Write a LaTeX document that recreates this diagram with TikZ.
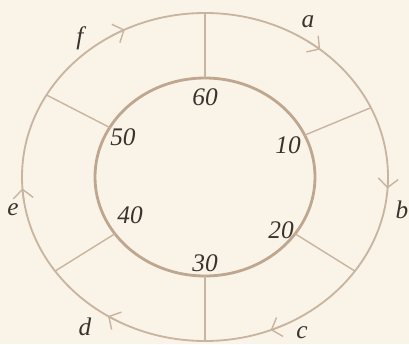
\documentclass[tikz,border=0pt]{standalone}
\usepackage{fontspec}
\setmainfont{Liberation Serif}
\usepackage{xcolor}
\usetikzlibrary{arrows.meta}
\definecolor{paper-bg}{HTML}{FAF4E8}
\definecolor{ring-line}{HTML}{C8B49F}
\definecolor{inner-line}{HTML}{BFA68E}
\definecolor{ink}{HTML}{3A322D}

\begin{document}
\begin{tikzpicture}[
    ring/.style={draw=ring-line, line width=1.3pt},
    hub/.style={draw=inner-line, line width=2pt},
    spoke/.style={draw=ring-line, line width=1pt},
    flow/.style={draw=ring-line, line width=1pt,
                 -{Straight Barb[length=2.2mm, width=5mm]}},
    lbl/.style={text=ink, font=\fontsize{18}{20}\selectfont\itshape, inner sep=0pt}]
    % Ring: centre at (0,0), outer radii 4.575/4.1, inner radii 2.75/2.475
    % six spokes, six clockwise arrows on the outer ring
    \useasboundingbox[fill=paper-bg] (-5.125,-4.175) rectangle (5.1,4.425);
    \draw[ring] (0,0) ellipse [x radius=4.575, y radius=4.1];
    \draw[hub] (0,0) ellipse [x radius=2.75, y radius=2.475];
    \foreach \t in {90,25,-35,-90,-145,150}
      \draw[spoke] (\t:2.75 and 2.475) -- (\t:4.575 and 4.1);
    \foreach \t in {51,-4,-69,238,184,116}
      \draw[flow] (\t+5:4.575 and 4.1)
        arc[start angle=\t+5, end angle=\t, x radius=4.575, y radius=4.1];
    % values on the inner ring
    \node[lbl] (n60) at (0,2.0) {60};
    \node[lbl] (n10) at (2.075,0.8) {10};
    \node[lbl] (n20) at (1.9,-1.325) {20};
    \node[lbl] (n30) at (0,-2.15) {30};
    \node[lbl] (n40) at (-1.875,-0.95) {40};
    \node[lbl] (n50) at (-2.05,1.0) {50};
    % letters on the outer ring
    \node[lbl] (la) at (2.575,3.875) {a};
    \node[lbl] (lb) at (4.925,-0.825) {b};
    \node[lbl] (lc) at (2.425,-3.9) {c};
    \node[lbl] (ld) at (-3.0,-3.75) {d};
    \node[lbl] (le) at (-4.8,-0.825) {e};
    \node[lbl] (lf) at (-3.125,3.475) {f};
  \end{tikzpicture}
\end{document}
